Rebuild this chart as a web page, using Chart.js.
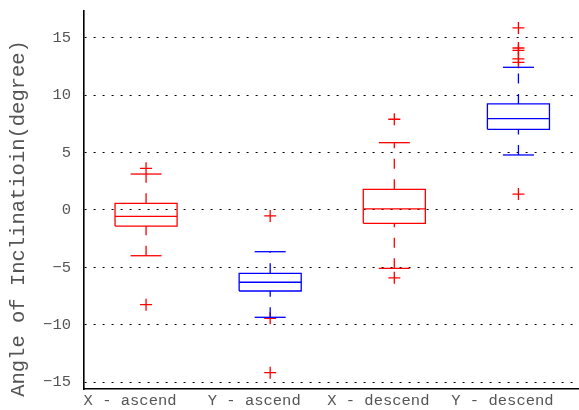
<!DOCTYPE html>
<html>
<head>
<meta charset="utf-8">
<script src="https://cdn.jsdelivr.net/npm/chart.js@4/dist/chart.umd.min.js"></script>
<style>
html,body{margin:0;padding:0;background:#fff;}
#wrap{width:579px;height:410px;}
</style>
</head>
<body>
<div id="wrap"><canvas id="c" width="579" height="410"></canvas></div>
<script>
// ---- data ----
const categories = ['X - ascend', 'Y - ascend', 'X - descend', 'Y - descend'];
const q1 = [-1.40, -7.05, -1.16, 7.02];
const medians = [-0.55, -6.29, 0.09, 7.95];
const q3 = [0.58, -5.51, 1.80, 9.23];
const whiskerLow = [-3.98, -9.34, -5.08, 4.79];
const whiskerHigh = [3.13, -3.63, 5.86, 12.42];
const outliers = [
  [3.63, -8.24],
  [-0.52, -9.43, -14.16],
  [7.90, -5.90],
  [15.85, 14.10, 13.90, 13.15, 12.85, 1.39]
];
const yTicks = [-15, -10, -5, 0, 5, 10, 15];
const yTitle = 'Angle of Inclinatioin(degree)';

// ---- styles ----
const boxColors = ['#ff0000', '#0000ff', '#ff0000', '#0000ff'];
const outlierColor = '#ff0000';
const boxHalf = 0.25, capHalf = 0.125;
const lw = 1.3;
const textColor = '#555555';
const fontFam = "'Liberation Mono', 'DejaVu Sans Mono', monospace";

const datasets = [];
categories.forEach((cat, i) => {
  const x = i + 1, col = boxColors[i];
  const line = (pts, dash) => ({
    type: 'scatter', showLine: true, data: pts, borderColor: col, backgroundColor: col,
    borderWidth: lw, pointRadius: 0, pointHoverRadius: 0, fill: false, tension: 0,
    borderDash: dash || []
  });
  // box
  datasets.push(line([
    {x: x - boxHalf, y: q1[i]}, {x: x + boxHalf, y: q1[i]},
    {x: x + boxHalf, y: q3[i]}, {x: x - boxHalf, y: q3[i]}, {x: x - boxHalf, y: q1[i]}
  ]));
  // median
  datasets.push(line([{x: x - boxHalf, y: medians[i]}, {x: x + boxHalf, y: medians[i]}]));
  // whiskers (dashed)
  datasets.push(line([{x: x, y: whiskerLow[i]}, {x: x, y: q1[i]}], [10, 10.5]));
  datasets.push(line([{x: x, y: q3[i]}, {x: x, y: whiskerHigh[i]}], [10, 10.5]));
  // caps
  datasets.push(line([{x: x - capHalf, y: whiskerLow[i]}, {x: x + capHalf, y: whiskerLow[i]}]));
  datasets.push(line([{x: x - capHalf, y: whiskerHigh[i]}, {x: x + capHalf, y: whiskerHigh[i]}]));
  // outliers
  datasets.push({
    type: 'scatter', data: outliers[i].map(v => ({x: x, y: v})),
    pointStyle: 'cross', pointRadius: 6, pointHoverRadius: 6,
    borderColor: outlierColor, backgroundColor: outlierColor, borderWidth: lw, showLine: false
  });
});

new Chart(document.getElementById('c'), {
  type: 'scatter',
  data: { datasets },
  options: {
    responsive: false,
    animation: false,
    events: [],
    layout: { autoPadding: false, padding: { top: 11, right: 0, bottom: 0, left: 0 } },
    plugins: { legend: { display: false }, tooltip: { enabled: false } },
    scales: {
      x: {
        type: 'linear', min: 0.5, max: 4.488,
        afterBuildTicks: s => { s.ticks = categories.map((c, i) => ({ value: i + 1 })); },
        afterFit: s => { s.height = 21; s.paddingLeft = 0; s.paddingRight = 0; },
        grid: { display: false, drawTicks: false },
        border: { display: true, color: '#000', width: 1.6 },
        ticks: {
          callback: v => categories[Math.round(v) - 1],
          labelOffset: -16, padding: 3, maxRotation: 0, autoSkip: false,
          color: textColor, font: { family: fontFam, size: 15.5 }
        }
      },
      y: {
        type: 'linear', min: -15.58, max: 17.32,
        afterBuildTicks: s => { s.ticks = yTicks.map(v => ({ value: v })); },
        afterFit: s => { s.width = 84; s.paddingTop = 0; s.paddingBottom = 0; },
        grid: { display: true, color: '#000', lineWidth: 1, drawTicks: false },
        border: { display: true, color: '#000', width: 1.6, dash: [2, 7] },
        ticks: {
          callback: v => (v < 0 ? '\u2212' + Math.abs(v) : String(v)),
          padding: 13, color: textColor, font: { family: fontFam, size: 15.5 }
        },
        title: {
          display: true, text: yTitle + '   ', color: textColor,
          font: { family: fontFam, size: 20.5 }, padding: { top: 6, bottom: 0 }
        }
      }
    }
  }
});
</script>
</body>
</html>
